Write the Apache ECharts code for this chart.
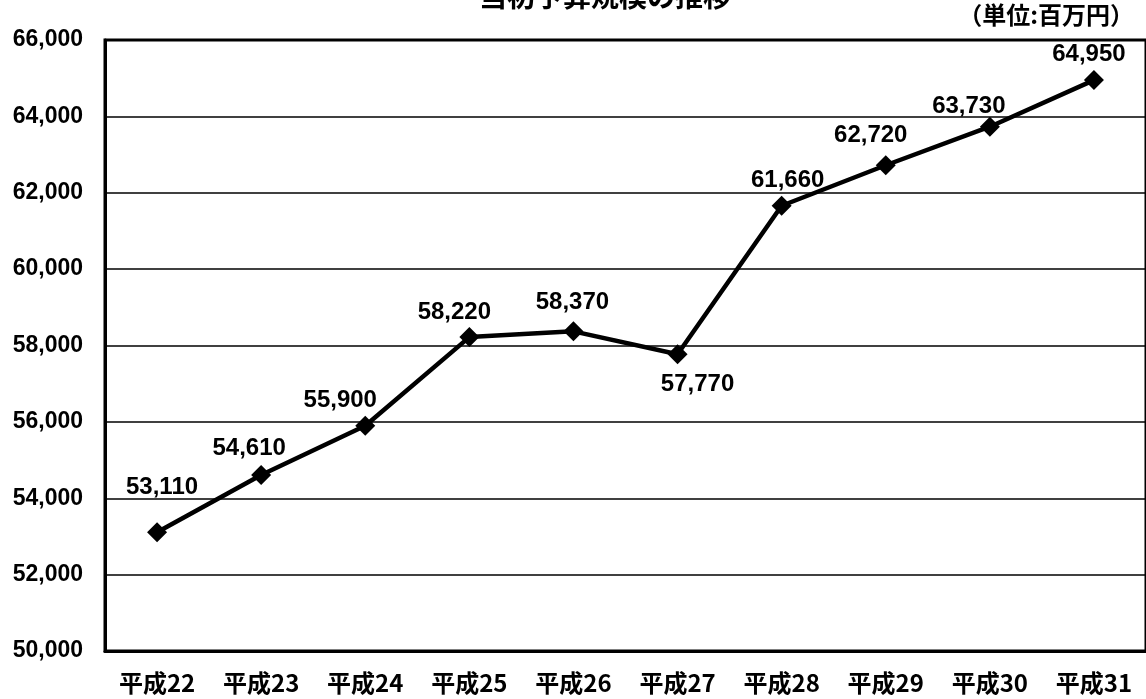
<!DOCTYPE html>
<html>
<head>
<meta charset="utf-8">
<script src="https://cdn.jsdelivr.net/npm/echarts@6/dist/echarts.min.js"></script>
<style>
  html, body { margin: 0; padding: 0; background: #fff; }
  #chart01 { width: 1146px; height: 699px; }
</style>
</head>
<body>
<div id="chart01"></div>
<script>
// データ
var categories = ['平成22', '平成23', '平成24', '平成25', '平成26', '平成27', '平成28', '平成29', '平成30', '平成31'];
var budget = [53110, 54610, 55900, 58220, 58370, 57770, 61660, 62720, 63730, 64950];
// ラベルのずらし (px)
var labelShift = [[5, -45], [-12, -27], [-25, -25], [-15, -25], [-1, -29], [20, 30], [6, -25], [-15, -30], [-21, -20], [-5, -26]];

var numFont = '"Liberation Sans", Arial, sans-serif';
var jpFont = '"Noto Sans CJK JP", sans-serif';

var chart01 = echarts.init(document.getElementById('chart01'));

var seriesData = budget.map(function (v, i) {
    return {
        value: v,
        label: { offset: labelShift[i] }
    };
});

var option = {
    animation: false,
    title: {
        text: '当初予算規模の推移',
        left: 600,
        top: -23,
        textAlign: 'center',
        textStyle: { fontFamily: jpFont, fontSize: 28, fontWeight: 'bold', color: '#000' }
    },
    graphic: [{
        type: 'text',
        right: 12,
        top: 3,
        style: { text: '（単位:百万円）', font: 'bold 24px ' + jpFont, fill: '#000' }
    }],
    grid: {
        left: 105,
        right: 0,
        top: 40,
        bottom: 48,
        show: true,
        borderColor: '#000',
        borderWidth: 3
    },
    xAxis: {
        type: 'category',
        data: categories,
        boundaryGap: true,
        axisLine: { lineStyle: { color: '#000', width: 3 } },
        axisTick: { inside: true, length: 7, lineStyle: { color: '#000', width: 2 } },
        axisLabel: { color: '#000', fontFamily: jpFont, fontSize: 24, fontWeight: 'bold', margin: 20 }
    },
    yAxis: {
        type: 'value',
        min: 50000,
        max: 66000,
        interval: 2000,
        axisLine: { show: true, lineStyle: { color: '#000', width: 3 } },
        axisTick: { show: false },
        splitLine: { lineStyle: { color: '#000', width: 1.5 } },
        axisLabel: {
            color: '#000', fontFamily: numFont, fontSize: 23, fontWeight: 'bold', margin: 22,
            formatter: function (v) { return v.toLocaleString('en-US'); }
        }
    },
    series: [{
        type: 'line',
        data: seriesData,
        symbol: 'diamond',
        symbolSize: 20,
        lineStyle: { color: '#000', width: 4.5 },
        itemStyle: { color: '#000' },
        label: {
            show: true,
            position: 'inside',
            color: '#000',
            fontFamily: numFont,
            fontSize: 24,
            fontWeight: 'bold',
            formatter: function (p) { return p.value.toLocaleString('en-US'); }
        }
    }]
};

chart01.setOption(option);
window.onresize = function () {
    chart01.resize();
};
</script>
</body>
</html>
